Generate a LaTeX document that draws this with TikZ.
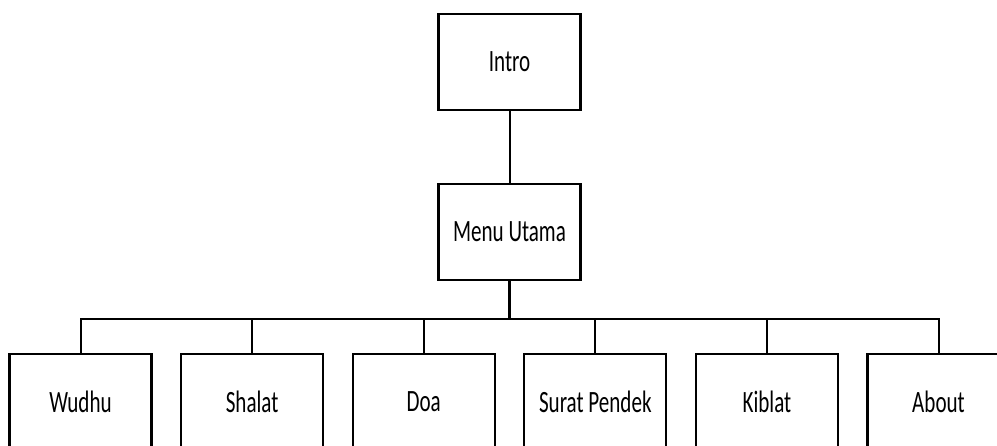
\documentclass[tikz,border=0pt]{standalone}
\usepackage{fontspec}
\setmainfont{Carlito}[FakeStretch=0.68]
\usetikzlibrary{positioning}
\tikzset{menubox/.style={draw,line width=2.2pt,minimum width=142pt,minimum height=96pt,
		inner sep=0,font=\fontsize{31}{34}\selectfont}}
\begin{document}
\begin{tikzpicture}[x=1pt,y=1pt,level distance=170pt,
		level 2/.style={sibling distance=171.6pt},
		edge from parent/.style={draw=none}]
		\clip (0,0) rectangle (997,-446);
		\begin{scope}[every node/.style={menubox}]
		\node (intro) at (509.5,-62) {Intro}
		child { node (menu) {Menu Utama}
			child { node (wudhu) {Wudhu}
			}
			child { node (shalat) {Shalat}
			}
			child { node (doa) {Doa}
			}
			child { node (surat) {Surat Pendek}
			}
			child { node (kiblat) {Kiblat}
			}
			child { node (about) {About}
			}
		};
		\end{scope}
		\coordinate[below=38pt of menu.south] (bus);
		\draw[line width=2pt] (intro) -- (menu);
		\draw[line width=3pt] (menu) -- (bus);
		\foreach \sub in {wudhu,shalat,doa,surat,kiblat,about}
			\draw[line width=2pt] (bus) -| (\sub);
\end{tikzpicture}
\end{document}
